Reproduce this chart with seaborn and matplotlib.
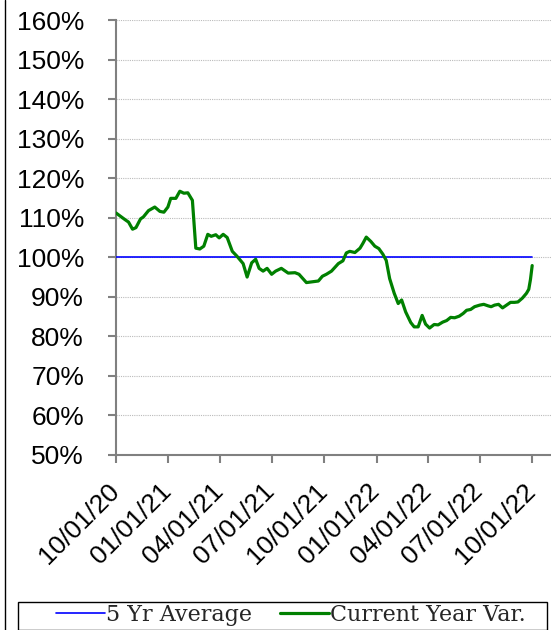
import pandas as pd
import seaborn as sns
import matplotlib.pyplot as plt
import matplotlib.dates as mdates
from matplotlib.ticker import MultipleLocator, FuncFormatter
from matplotlib.lines import Line2D
from matplotlib.patches import Rectangle
from matplotlib.transforms import ScaledTranslation

# Данные (дни от 10/01/20 и проценты)
start_date = '2020-10-01'
day_offsets = [0, 16, 22, 29, 35, 43, 48, 57, 68, 77, 84, 91, 96, 105, 112, 119, 126, 134,
               140, 147, 154, 161, 167, 175, 181, 188, 195, 204, 212, 223, 230, 238, 245,
               251, 258, 265, 273, 280, 290, 302, 314, 321, 334, 355, 362, 369, 378, 390,
               398, 404, 410, 419, 428, 433, 439, 447, 454, 461, 468, 474, 480, 488, 495,
               501, 508, 517, 523, 530, 537, 543, 550, 558, 565, 573, 580, 587, 594, 602,
               609, 615, 622, 629, 638, 645, 653, 658, 664, 671, 678, 685, 692, 699, 705,
               713, 720, 724, 727, 730]
current_year_var = [111.2, 109.5, 108.9, 107.1, 107.5, 109.7, 110.2, 111.8, 112.7, 111.6,
                    111.4, 112.7, 114.9, 114.9, 116.7, 116.2, 116.3, 114.4, 102.3, 102.1,
                    102.8, 105.8, 105.3, 105.7, 104.9, 105.8, 105.0, 101.5, 100.3, 98.4,
                    95.0, 98.6, 99.5, 97.2, 96.5, 97.2, 95.7, 96.5, 97.2, 96.0, 96.1, 95.7,
                    93.6, 94.0, 95.2, 95.7, 96.5, 98.4, 99.1, 101.1, 101.5, 101.2, 102.3,
                    103.5, 105.1, 104.0, 102.8, 102.2, 100.8, 99.2, 94.6, 90.9, 88.3, 89.2,
                    86.2, 83.5, 82.4, 82.4, 85.3, 83.1, 82.1, 83.0, 82.9, 83.6, 84.0, 84.8,
                    84.7, 85.1, 85.8, 86.6, 86.8, 87.5, 87.9, 88.1, 87.7, 87.5, 87.9, 88.1,
                    87.2, 87.9, 88.6, 88.6, 88.7, 89.7, 90.9, 91.9, 94.4, 97.9]
avg_dates = ['2020-10-01', '2022-10-01']
avg_values = [100, 100]
tick_dates = ['2020-10-01', '2021-01-01', '2021-04-01', '2021-07-01', '2021-10-01',
              '2022-01-01', '2022-04-01', '2022-07-01', '2022-10-01']

dates = pd.Timestamp(start_date) + pd.to_timedelta(day_offsets, unit='D')

sns.set_style('white')
plt.rcParams['font.family'] = ['Liberation Sans', 'DejaVu Sans']

W, H = 551, 630
fig = plt.figure(figsize=(W / 100, H / 100), dpi=100)
ax = fig.add_axes([116 / W, 1 - 455 / H, 1 - 116 / W, (455 - 20) / H])

sns.lineplot(x=pd.to_datetime(avg_dates), y=avg_values, color='#0000ff', lw=1.2,
             label='5 Yr Average', ax=ax, zorder=3)
sns.lineplot(x=dates, y=current_year_var, color='#008000', lw=2.3,
             label='Current Year Var.', ax=ax, zorder=4)

ax.set_ylim(50, 160)
ax.yaxis.set_major_locator(MultipleLocator(10))
ax.yaxis.set_major_formatter(FuncFormatter(lambda v, p: '%d%%' % v))
ax.set_xlim(pd.Timestamp(start_date), pd.Timestamp(start_date) + pd.Timedelta(days=763))
ax.set_xticks(pd.to_datetime(tick_dates))
ax.xaxis.set_major_formatter(mdates.DateFormatter('%m/%d/%y'))
ax.set_xlabel('')
ax.set_ylabel('')

ax.yaxis.grid(True, color='#bbbbbb', linestyle=(0, (1, 1)), lw=0.8)
ax.xaxis.grid(False)
for s in ['top', 'right']:
    ax.spines[s].set_visible(False)
for s in ['left', 'bottom']:
    ax.spines[s].set_color('#808080')
    ax.spines[s].set_linewidth(1.5)

ax.tick_params(axis='both', direction='out', bottom=True, left=True, length=6, width=1.5,
               color='#808080', labelsize=19, labelcolor='black')
ax.tick_params(axis='y', pad=17)
ax.tick_params(axis='x', pad=11.5)
shift = ScaledTranslation(-9 / 100, 0, fig.dpi_scale_trans)
for lbl in ax.get_xticklabels():
    lbl.set_rotation(45)
    lbl.set_ha('right')
    lbl.set_va('top')
    lbl.set_rotation_mode('anchor')
    lbl.set_transform(lbl.get_transform() + shift)

# легенда внизу в рамке
handles, labels = ax.get_legend_handles_labels()
ax.get_legend().remove()
leg = fig.legend(handles, labels, loc='center', ncol=2,
                 bbox_to_anchor=(291 / W, 1 - 615 / H),
                 prop={'family': 'DejaVu Serif', 'size': 16},
                 frameon=False, borderpad=0, handlelength=2.2, handletextpad=0.04,
                 columnspacing=1.25, borderaxespad=0)
fig.add_artist(Rectangle((18 / W, 0), (547 - 18) / W, (H - 602) / H,
                         transform=fig.transFigure, fill=False, edgecolor='black', lw=1))

fig.add_artist(Line2D([5 / W, 5 / W], [0, 1], transform=fig.transFigure,
                      color='black', lw=1))

plt.savefig('out.png', dpi=100)
